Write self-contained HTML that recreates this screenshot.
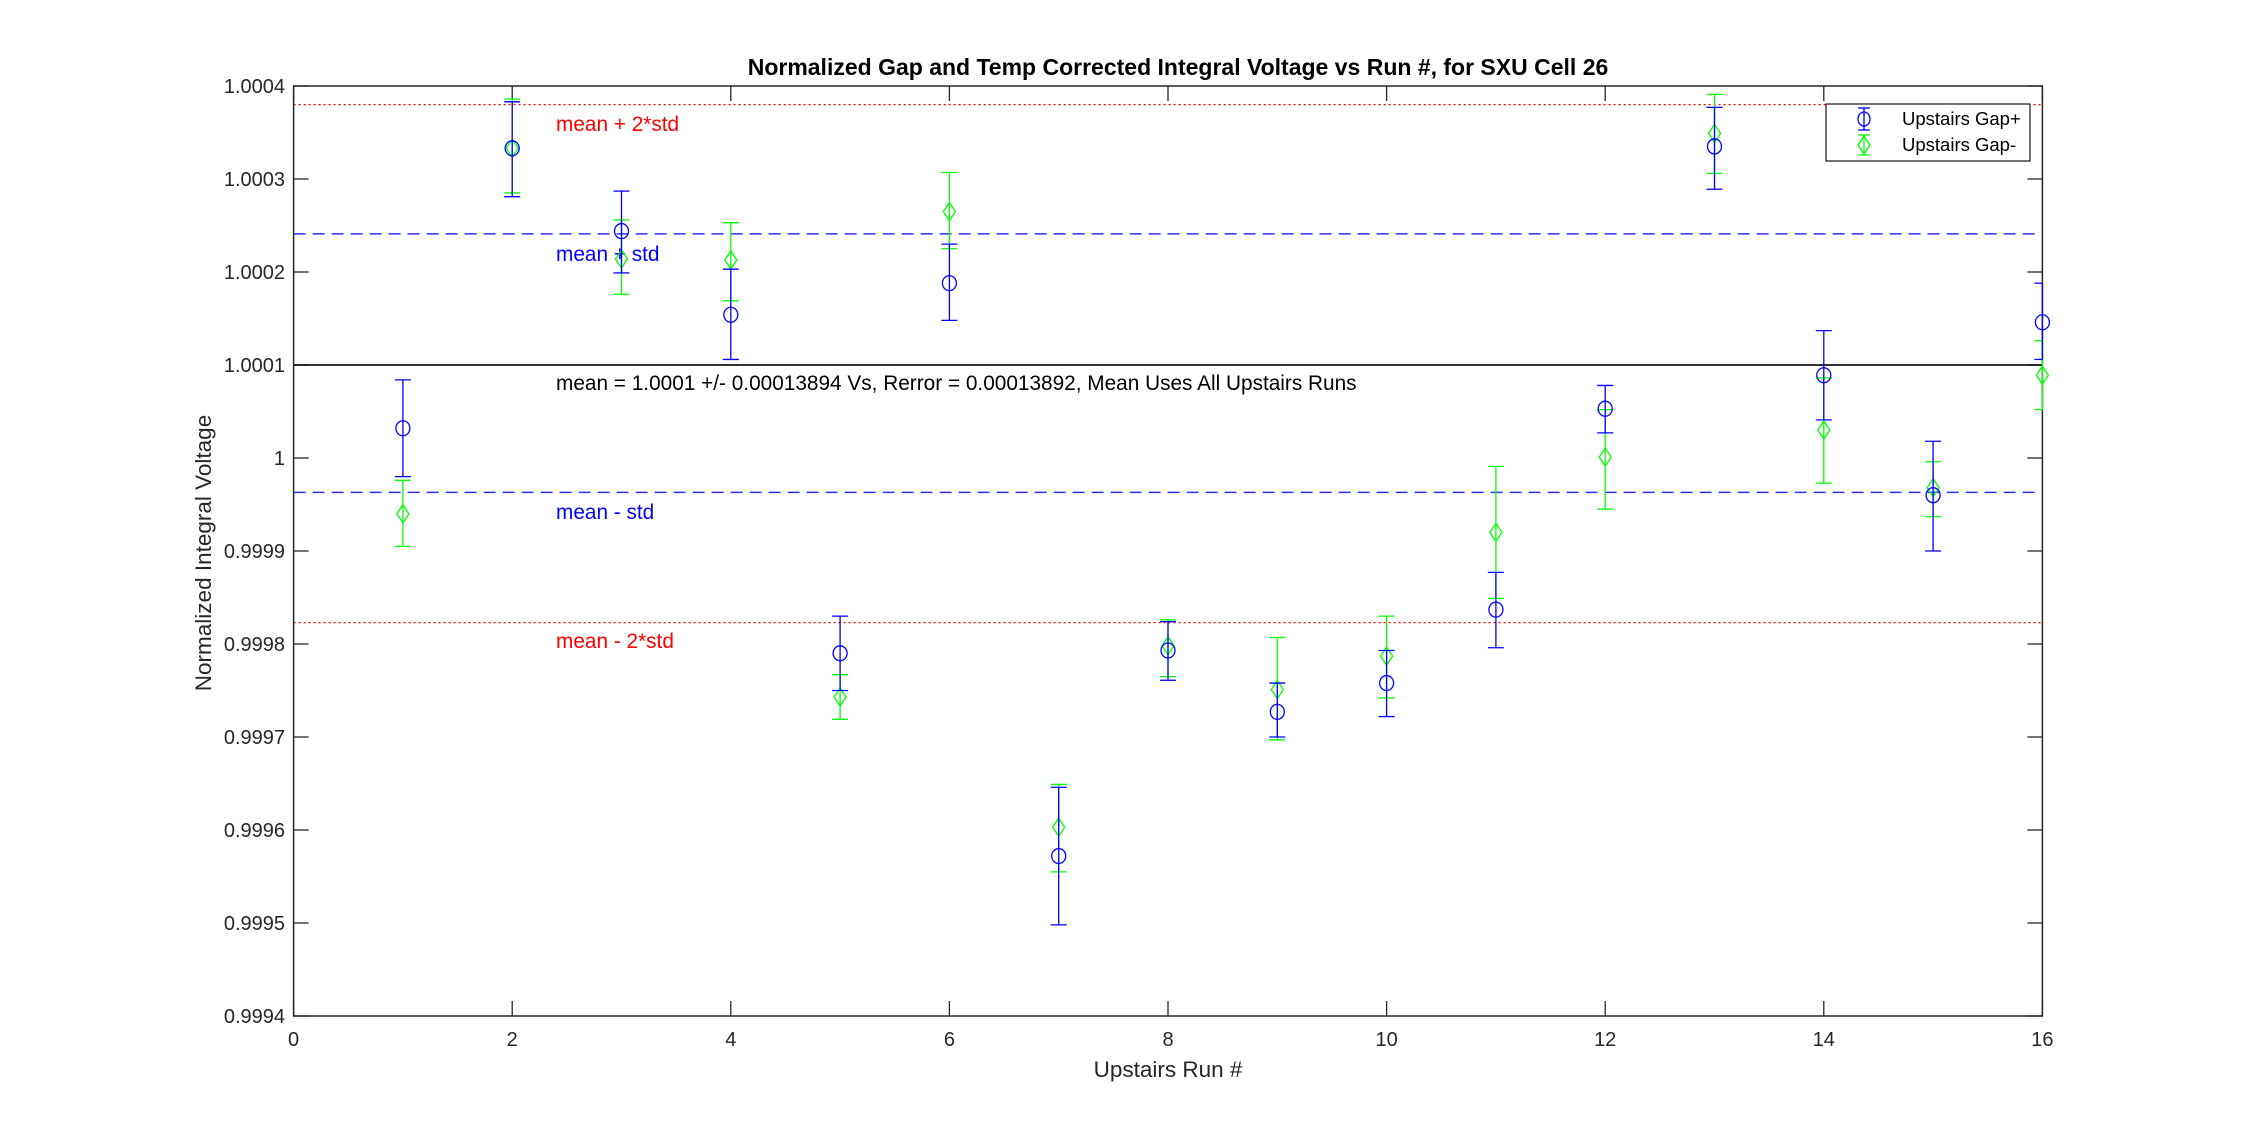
<!DOCTYPE html>
<html><head><meta charset="utf-8"><style>body{margin:0;background:#fff}svg{display:block}text{font-family:"Liberation Sans",Arial,sans-serif}</style></head>
<body>
<svg id="s" width="2258" height="1143" viewBox="0 0 2258 1143" xmlns="http://www.w3.org/2000/svg">
<rect width="2258" height="1143" fill="#fff"/>
<g id="g"></g>
</svg>
<script>
const X=v=>293.6+v*109.3, Y=v=>86+(1.0004-v)/0.0001*93;
let h='';
const L=(x1,y1,x2,y2,c,w,d)=>h+=`<line x1="${x1}" y1="${y1}" x2="${x2}" y2="${y2}" stroke="${c}" stroke-width="${w||1.3}"${d?` stroke-dasharray="${d}"`:''}/>`;
const T=(x,y,s,o)=>h+=`<text x="${x}" y="${y}" ${o||''}>${s}</text>`;
const x0=X(0),x1=X(16),y0=Y(1.0004),y1=Y(0.9994);
L(x0,Y(1.00038),x1,Y(1.00038),'#ff0000',1.2,'2,3');
L(x0,Y(0.999823),x1,Y(0.999823),'#ff0000',1.2,'2,3');
L(x0,Y(1.000241),x1,Y(1.000241),'#3030ff',1.5,'12,7');
L(x0,Y(0.999963),x1,Y(0.999963),'#3030ff',1.5,'12,7');
L(x0,Y(1.0001),x1,Y(1.0001),'#333',2);
h+=`<rect x="${x0}" y="${y0}" width="${x1-x0}" height="${y1-y0}" fill="none" stroke="#262626" stroke-width="1.5"/>`;
for(let i=0;i<=16;i+=2){const x=X(i);L(x,y1,x,y1-15,'#262626');L(x,y0,x,y0+15,'#262626');T(x,1046,i,'font-size="20" fill="#262626" text-anchor="middle"');}
for(let i=0;i<=10;i++){const v=0.9994+i*0.0001,y=Y(v);L(x0,y,x0+15,y,'#262626');L(x1,y,x1-15,y,'#262626');T(285,y+7,i==6?'1':v.toFixed(4),'font-size="20" fill="#262626" text-anchor="end"');}
T(1178,75,'Normalized Gap and Temp Corrected Integral Voltage vs Run #, for SXU Cell 26','font-size="23" font-weight="bold" fill="#000" text-anchor="middle"');
T(1168,1077,'Upstairs Run #','font-size="22.5" fill="#262626" text-anchor="middle"');
T(0,0,'Normalized Integral Voltage','font-size="22.5" fill="#262626" text-anchor="middle" transform="translate(211,553) rotate(-90)"');
T(556,131,'mean + 2*std','font-size="20.8" fill="#ff0000"');
T(556,261,'mean + std','font-size="20.8" fill="#0000ff"');
T(556,390,'mean = 1.0001 +/- 0.00013894 Vs, Rerror = 0.00013892, Mean Uses All Upstairs Runs','font-size="20.8" fill="#000"');
T(556,519,'mean - std','font-size="20.8" fill="#0000ff"');
T(556,648,'mean - 2*std','font-size="20.8" fill="#ff0000"');
const B=[[1,1.000032,1.000084,0.999980],[2,1.000333,1.000383,1.000281],[3,1.000244,1.000287,1.000199],[4,1.000154,1.000203,1.000106],[5,0.99979,0.99983,0.99975],[6,1.000188,1.00023,1.000148],[7,0.999572,0.999646,0.999498],[8,0.999793,0.999824,0.999761],[9,0.999727,0.999758,0.9997],[10,0.999758,0.999793,0.999722],[11,0.999837,0.999877,0.999796],[12,1.000053,1.000078,1.000027],[13,1.000335,1.000377,1.000289],[14,1.000089,1.000137,1.000041],[15,0.99996,1.000018,0.9999],[16,1.000146,1.000188,1.000106]];
const G=[[1,0.99994,0.999976,0.999905],[2,1.000333,1.000386,1.000285],[3,1.000214,1.000256,1.000176],[4,1.000213,1.000253,1.000169],[5,0.999743,0.999767,0.999719],[6,1.000265,1.000307,1.000225],[7,0.999603,0.999649,0.999555],[8,0.999798,0.999826,0.999765],[9,0.999751,0.999807,0.999697],[10,0.999787,0.99983,0.999742],[11,0.99992,0.999991,0.999849],[12,1.000001,1.000052,0.999945],[13,1.000349,1.000391,1.000306],[14,1.00003,1.000086,0.999973],[15,0.999968,0.999996,0.999937],[16,1.000089,1.000126,1.000052]];
const eb=(d,c,m)=>{for(const [r,v,hi,lo] of d){const x=X(r),yt=Y(hi),yb=Y(lo),yc=Y(v);const cl=Math.max(x0,x-8),cr=Math.min(x1,x+8);L(x,yt,x,yb,c,1.3);L(cl,yt,cr,yt,c,1.3);L(cl,yb,cr,yb,c,1.3);
if(m=='o')h+=`<ellipse cx="${x}" cy="${yc}" rx="7" ry="7.5" fill="none" stroke="${c}" stroke-width="1.3"/>`;else h+=`<polygon points="${x},${yc-9} ${x+6},${yc} ${x},${yc+9} ${x-6},${yc}" fill="none" stroke="${c}" stroke-width="1.3"/>`;}};
eb(G,'#00ff00','d');eb(B,'#0000ff','o');
h+=`<rect x="1826" y="104" width="204" height="57" fill="#fff" stroke="#262626" stroke-width="1.3"/>`;
L(1864,108,1864,130,'#0000ff');L(1858,108,1870,108,'#0000ff');L(1858,130,1870,130,'#0000ff');h+=`<ellipse cx="1864" cy="119" rx="6" ry="7" fill="none" stroke="#0000ff" stroke-width="1.3"/>`;
L(1864,135,1864,155,'#00ff00');L(1858,135,1870,135,'#00ff00');L(1858,155,1870,155,'#00ff00');h+=`<polygon points="1864,136 1870,145 1864,154 1858,145" fill="none" stroke="#00ff00" stroke-width="1.3"/>`;
T(1902,125,'Upstairs Gap+','font-size="18.5" fill="#000"');T(1902,151,'Upstairs Gap-','font-size="18.5" fill="#000"');
document.getElementById('g').innerHTML=h;
</script>
</body></html>
